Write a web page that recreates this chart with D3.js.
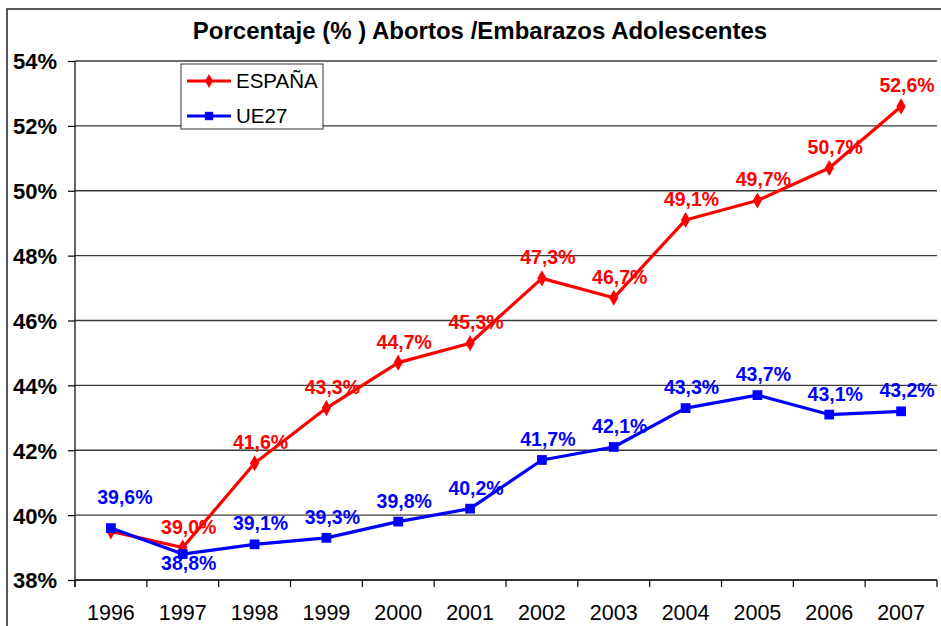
<!DOCTYPE html>
<html><head><meta charset="utf-8">
<script src="https://cdn.jsdelivr.net/npm/d3@7"></script>
<style>
html,body{margin:0;padding:0;background:#fff;}
svg{display:block;font-family:Arial,"Liberation Sans",sans-serif;}
</style></head>
<body>
<svg id="chart" width="941" height="626"></svg>
<script>
const title = "Porcentaje (% ) Abortos /Embarazos Adolescentes";
const years = ["1996","1997","1998","1999","2000","2001","2002","2003","2004","2005","2006","2007"];
const espana = [39.5,39.0,41.6,43.3,44.7,45.3,47.3,46.7,49.1,49.7,50.7,52.6];
const ue27   = [39.6,38.8,39.1,39.3,39.8,40.2,41.7,42.1,43.3,43.7,43.1,43.2];
const espanaLabelPlace = ["none","above","above","above","above","above","above","above","above","above","above","above"];
const ue27LabelPlace   = ["high","below","above","above","above","above","above","above","above","above","above","above"];
const yTicks = [38,40,42,44,46,48,50,52,54];
const seriesNames = ["ESPAÑA","UE27"];

const svg = d3.select("#chart");
const L = 75, R = 937, T = 61, B = 580;

const x = d3.scaleBand().domain(years).range([L, R]).padding(0);
const y = d3.scaleLinear().domain([38, 54]).range([B, T]);
const cx = d => x(d) + x.bandwidth() / 2;

// outer border
svg.append("rect").attr("x", 7).attr("y", 9).attr("width", 960).attr("height", 640)
  .attr("fill", "none").attr("stroke", "#222").attr("stroke-width", 1.5);

// title
svg.append("text").attr("x", 480).attr("y", 39).attr("text-anchor", "middle")
  .attr("font-size", 24).attr("font-weight", "bold").attr("fill", "#000").text(title);

// gridlines
svg.append("g").selectAll("line").data(yTicks).join("line")
  .attr("x1", L).attr("x2", R).attr("y1", d => y(d)).attr("y2", d => y(d))
  .attr("stroke", "#3a3a3a").attr("stroke-width", 1.4);

// y axis
const yAxis = d3.axisLeft(y).tickValues(yTicks).tickSize(7).tickPadding(10)
  .tickFormat(d => d + "%");
const gy = svg.append("g").attr("transform", `translate(${L},0)`).call(yAxis);
gy.select(".domain").attr("stroke", "#000").attr("stroke-width", 1.2).attr("d", `M0,${T}V${B + 7}`);
gy.selectAll(".tick line").attr("stroke", "#000").attr("stroke-width", 1.2);
gy.selectAll(".tick text").attr("font-size", 22).attr("font-weight", "bold")
  .attr("font-family", "Arial,'Liberation Sans',sans-serif").attr("fill", "#000")
  .attr("x", -18).attr("dy", "0.36em");

// x axis
const gx = svg.append("g").attr("transform", `translate(0,${B})`);
gx.append("line").attr("x1", L).attr("x2", R).attr("y1", 0).attr("y2", 0)
  .attr("stroke", "#000").attr("stroke-width", 1.2);
const bounds = years.map(d => x(d)).concat([R]);
gx.selectAll("line.tk").data(bounds).join("line").attr("class", "tk")
  .attr("x1", d => d).attr("x2", d => d).attr("y1", 0).attr("y2", 7)
  .attr("stroke", "#000").attr("stroke-width", 1.2);
gx.selectAll("text").data(years).join("text")
  .attr("x", d => cx(d)).attr("y", 40).attr("text-anchor", "middle")
  .attr("font-size", 21.5).attr("fill", "#000").text(d => d);

const line = d3.line().x((d, i) => cx(years[i])).y(d => y(d));

function drawSeries(vals, color, shape, places) {
  const g = svg.append("g");
  g.append("path").datum(vals).attr("d", line).attr("fill", "none")
    .attr("stroke", color).attr("stroke-width", 3.2).attr("stroke-linejoin", "round");
  g.selectAll("path.m").data(vals).join("path").attr("class", "m")
    .attr("transform", (d, i) => `translate(${cx(years[i])},${y(d)})`)
    .attr("d", d3.symbol().type(shape).size(shape === d3.symbolSquare ? 95 : 75))
    .attr("fill", color);
  g.selectAll("text").data(vals.map((v, i) => ({v, i})).filter(o => places[o.i] !== "none"))
    .join("text")
    .attr("x", o => cx(years[o.i]) + (places[o.i] === "high" ? 14 : 6))
    .attr("y", o => {
      const p = places[o.i];
      if (p === "below") return y(o.v) + 16;
      if (p === "high") return y(o.v) - 24;
      return y(o.v) - 14;
    })
    .attr("text-anchor", "middle").attr("font-size", 19.5).attr("font-weight", "bold")
    .attr("fill", color).text(o => o.v.toFixed(1).replace(".", ",") + "%");
}
drawSeries(espana, "#ff0000", d3.symbolDiamond, espanaLabelPlace);
drawSeries(ue27, "#0000ff", d3.symbolSquare, ue27LabelPlace);

// legend
const lg = svg.append("g");
lg.append("rect").attr("x", 181).attr("y", 64).attr("width", 142).attr("height", 65)
  .attr("fill", "#fff").attr("stroke", "#333").attr("stroke-width", 1);
const legColors = ["#ff0000", "#0000ff"];
const legShapes = [d3.symbolDiamond, d3.symbolSquare];
seriesNames.forEach((n, i) => {
  const yy = 81 + i * 35;
  lg.append("line").attr("x1", 187).attr("x2", 231).attr("y1", yy).attr("y2", yy)
    .attr("stroke", legColors[i]).attr("stroke-width", 3);
  lg.append("path").attr("transform", `translate(209,${yy})`)
    .attr("d", d3.symbol().type(legShapes[i]).size(i ? 70 : 55)).attr("fill", legColors[i]);
  lg.append("text").attr("x", 236).attr("y", yy + 7).attr("font-size", 20.5)
    .attr("fill", "#000").text(n);
});
</script>
</body></html>
